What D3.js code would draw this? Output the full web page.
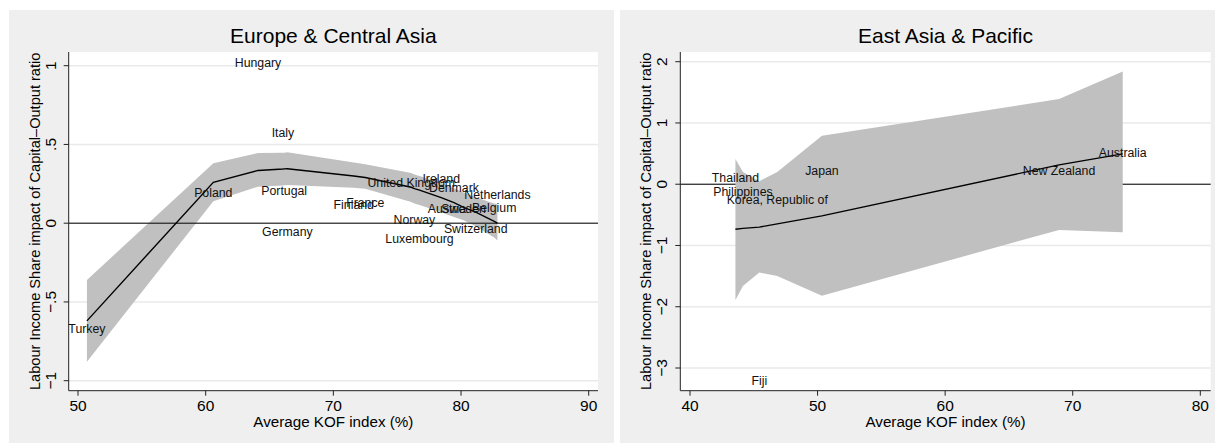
<!DOCTYPE html>
<html>
<head>
<meta charset="utf-8">
<script src="https://cdn.jsdelivr.net/npm/d3@7"></script>
<style>
  html, body { margin: 0; padding: 0; background: #fff; }
  svg { display: block; font-family: "Liberation Sans", Arial, sans-serif; }
</style>
</head>
<body>
<div id="chart"></div>
<script>
// ---- data: Europe & Central Asia ----
const eurCountries = ["Turkey", "Poland", "Hungary", "Italy", "Portugal", "Germany", "Finland", "France",
  "United Kingdom", "Norway", "Luxembourg", "Ireland", "Austria", "Denmark", "Sweden", "Switzerland",
  "Belgium", "Netherlands"];
const eurKof = [50.7, 60.6, 64.1, 66.05, 66.15, 66.4, 71.6, 72.5, 76.1, 76.35, 76.75, 78.45, 78.9, 79.45,
  80.2, 81.15, 82.6, 82.85];
const eurImpact = [-0.67, 0.195, 1.02, 0.578, 0.206, -0.053, 0.12, 0.133, 0.258, 0.021, -0.1, 0.282, 0.091,
  0.227, 0.093, -0.036, 0.097, 0.182];
const eurFit = [-0.62, 0.26, 0.335, 0.344, 0.345, 0.346, 0.3, 0.29, 0.228, 0.22, 0.21, 0.162, 0.148, 0.13,
  0.1, 0.07, 0.012, 0.0];
const eurLo = [-0.88, 0.14, 0.232, 0.24, 0.241, 0.243, 0.225, 0.218, 0.135, 0.125, 0.115, 0.07, 0.055, 0.04,
  0.018, -0.02, -0.09, -0.11];
const eurHi = [-0.36, 0.38, 0.445, 0.448, 0.448, 0.45, 0.385, 0.375, 0.318, 0.31, 0.3, 0.255, 0.24, 0.222,
  0.195, 0.165, 0.125, 0.12];

// ---- data: East Asia & Pacific ----
const eapCountries = ["Thailand", "Philippines", "Fiji", "Korea, Republic of", "Japan", "New Zealand", "Australia"];
const eapKof = [43.56, 44.15, 45.43, 46.84, 50.34, 68.93, 73.92];
const eapImpact = [0.103, -0.125, -3.2, -0.256, 0.218, 0.218, 0.512];
const eapFit = [-0.735, -0.72, -0.7, -0.648, -0.517, 0.316, 0.496];
const eapLo = [-1.89, -1.66, -1.44, -1.5, -1.82, -0.746, -0.784];
const eapHi = [0.41, 0.2, 0.05, 0.2, 0.79, 1.39, 1.84];

const eurXTicks = [50, 60, 70, 80, 90];
const eurYTicks = [-1, -0.5, 0, 0.5, 1];
const eapXTicks = [40, 50, 60, 70, 80];
const eapYTicks = [-3, -2, -1, 0, 1, 2];

const yTitle = "Labour Income Share impact of Capital\u2013Output ratio";
const xTitle = "Average KOF index (%)";

// ---- layout ----
const W = 1215, H = 444;
const svg = d3.select("#chart").append("svg").attr("width", W).attr("height", H);

const panels = [
  {
    title: "Europe & Central Asia",
    bg: [9, 10, 605, 433],
    plot: { left: 68.7, right: 598, top: 52, bottom: 390.7 },
    x: d3.scaleLinear().domain([50, 90]).range([78, 588.7]),
    y: d3.scaleLinear().domain([-1, 1]).range([380.7, 65.7]),
    xTicks: eurXTicks, yTicks: eurYTicks,
    names: eurCountries, kof: eurKof, val: eurImpact, fit: eurFit, lo: eurLo, hi: eurHi,
    zeroOnTop: true
  },
  {
    title: "East Asia & Pacific",
    bg: [620, 10, 595, 433],
    plot: { left: 680.3, right: 1210.7, top: 52, bottom: 390.7 },
    x: d3.scaleLinear().domain([40, 80]).range([690, 1200.3]),
    y: d3.scaleLinear().domain([-3, 2]).range([368, 61.7]),
    xTicks: eapXTicks, yTicks: eapYTicks,
    names: eapCountries, kof: eapKof, val: eapImpact, fit: eapFit, lo: eapLo, hi: eapHi,
    zeroOnTop: false
  }
];

// Stata style tick labels: ".5", "−.5"
function fmtTick(v) {
  let s = String(Math.abs(v)).replace(/^0\./, ".");
  return (v < 0 ? "\u2212" : "") + s;
}

panels.forEach(p => {
  const g = svg.append("g");
  const pl = p.plot;

  // 背景
  g.append("rect")
    .attr("x", p.bg[0]).attr("y", p.bg[1])
    .attr("width", p.bg[2]).attr("height", p.bg[3])
    .attr("fill", "#efefef");
  g.append("rect")
    .attr("x", pl.left).attr("y", pl.top)
    .attr("width", pl.right - pl.left).attr("height", pl.bottom - pl.top)
    .attr("fill", "#fff");

  // 网格线
  g.append("g").selectAll("line")
    .data(p.yTicks)
    .enter().append("line")
    .attr("x1", pl.left).attr("x2", pl.right)
    .attr("y1", d => p.y(d)).attr("y2", d => p.y(d))
    .attr("stroke", "#eaeaea").attr("stroke-width", 1.5);

  const zeroLine = () => g.append("line")
    .attr("x1", pl.left).attr("x2", pl.right)
    .attr("y1", p.y(0)).attr("y2", p.y(0))
    .attr("stroke", "#000").attr("stroke-width", 1);

  if (!p.zeroOnTop) zeroLine();

  const rows = p.kof.map((k, i) => ({ k, fit: p.fit[i], lo: p.lo[i], hi: p.hi[i] }));

  // 置信区间
  g.append("path")
    .datum(rows)
    .attr("d", d3.area().x(d => p.x(d.k)).y0(d => p.y(d.lo)).y1(d => p.y(d.hi)))
    .attr("fill", "#c0c0c0");

  // 拟合线
  g.append("path")
    .datum(rows)
    .attr("d", d3.line().x(d => p.x(d.k)).y(d => p.y(d.fit)))
    .attr("fill", "none").attr("stroke", "#000").attr("stroke-width", 1.4);

  if (p.zeroOnTop) zeroLine();

  // 国家标签
  g.append("g").selectAll("text")
    .data(p.names)
    .enter().append("text")
    .attr("x", (d, i) => p.x(p.kof[i]))
    .attr("y", (d, i) => p.y(p.val[i]))
    .attr("dy", "0.36em")
    .attr("text-anchor", "middle")
    .attr("font-size", 12.3)
    .attr("fill", "#111")
    .text(d => d);

  // 坐标轴
  g.append("line")
    .attr("x1", pl.left).attr("x2", pl.left)
    .attr("y1", pl.top).attr("y2", pl.bottom)
    .attr("stroke", "#222").attr("stroke-width", 1);
  g.append("line")
    .attr("x1", pl.left).attr("x2", pl.right)
    .attr("y1", pl.bottom).attr("y2", pl.bottom)
    .attr("stroke", "#222").attr("stroke-width", 1);

  g.append("g").selectAll("line")
    .data(p.xTicks)
    .enter().append("line")
    .attr("x1", d => p.x(d)).attr("x2", d => p.x(d))
    .attr("y1", pl.bottom).attr("y2", pl.bottom + 5)
    .attr("stroke", "#222");
  g.append("g").selectAll("text")
    .data(p.xTicks)
    .enter().append("text")
    .attr("x", d => p.x(d)).attr("y", pl.bottom + 20.5)
    .attr("text-anchor", "middle")
    .attr("font-size", 15.5)
    .text(d => d);

  g.append("g").selectAll("line")
    .data(p.yTicks)
    .enter().append("line")
    .attr("x1", pl.left - 5).attr("x2", pl.left)
    .attr("y1", d => p.y(d)).attr("y2", d => p.y(d))
    .attr("stroke", "#222");
  g.append("g").selectAll("text")
    .data(p.yTicks)
    .enter().append("text")
    .attr("transform", d => `translate(${pl.left - 13},${p.y(d)}) rotate(-90)`)
    .attr("text-anchor", "middle")
    .attr("font-size", 15.5)
    .text(d => fmtTick(d));

  // 轴标题
  g.append("text")
    .attr("x", (pl.left + pl.right) / 2).attr("y", pl.bottom + 36)
    .attr("text-anchor", "middle")
    .attr("font-size", 15.2)
    .text(xTitle);
  g.append("text")
    .attr("transform", `translate(${pl.left - 29},${(pl.top + pl.bottom) / 2}) rotate(-90)`)
    .attr("text-anchor", "middle")
    .attr("font-size", 14.6)
    .text(yTitle);

  g.append("text")
    .attr("x", (pl.left + pl.right) / 2).attr("y", 43)
    .attr("text-anchor", "middle")
    .attr("font-size", 21)
    .text(p.title);
});
</script>
</body>
</html>
